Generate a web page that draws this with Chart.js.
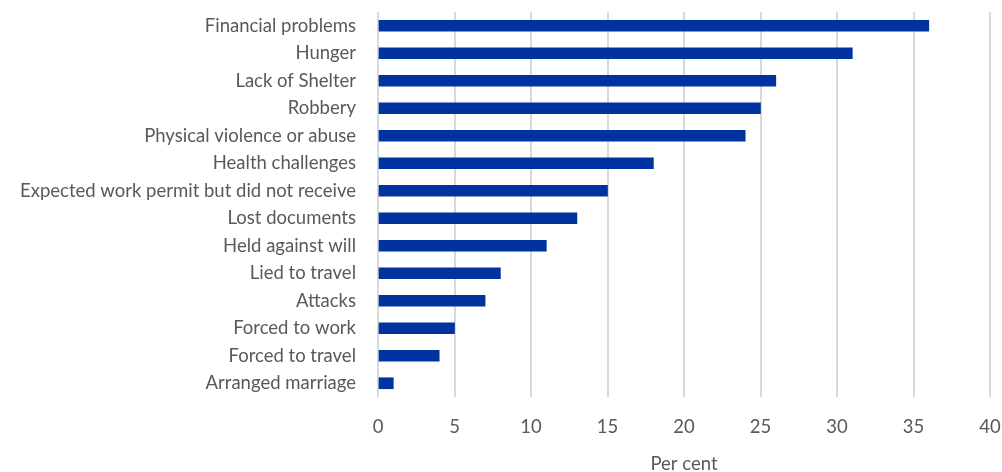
<!DOCTYPE html>
<html>
<head>
<meta charset="utf-8">
<script src="https://cdn.jsdelivr.net/npm/chart.js@4/dist/chart.umd.min.js"></script>
<style>
    html, body { margin: 0; padding: 0; background: #fff; }
    #wrap { width: 1002px; height: 472px; position: relative; }
</style>
</head>
<body>
<div id="wrap"><canvas id="hardshipChart"></canvas></div>
<script>
// Reported hardships, share of respondents
var categories = [
    'Financial problems',
    'Hunger',
    'Lack of Shelter',
    'Robbery',
    'Physical violence or abuse',
    'Health challenges',
    'Expected work permit but did not receive',
    'Lost documents',
    'Held against will',
    'Lied to travel',
    'Attacks',
    'Forced to work',
    'Forced to travel',
    'Arranged marriage'
];
var perCent = [36, 31, 26, 25, 24, 18, 15, 13, 11, 8, 7, 5, 4, 1];
var xTicks = [0, 5, 10, 15, 20, 25, 30, 35, 40];

var textColor = '#595959';
var gridColor = '#d9d9d9';
var barColor = '#0033a0';
var fontSize = 18.5;

Chart.defaults.font.family = 'Lato, "Open Sans", sans-serif';
Chart.defaults.font.size = fontSize;
Chart.defaults.color = textColor;

var ctx = document.getElementById('hardshipChart').getContext('2d');

new Chart(ctx, {
    type: 'bar',
    data: {
        labels: categories,
        datasets: [{
            label: 'Per cent',
            data: perCent,
            backgroundColor: barColor,
            borderWidth: 0,
            barThickness: 11
        }]
    },
    options: {
        indexAxis: 'y',
        responsive: true,
        maintainAspectRatio: false,
        animation: false,
        layout: {
            padding: { top: 12, right: 12, bottom: 0, left: 0 }
        },
        plugins: {
            legend: { display: false },
            tooltip: { enabled: false }
        },
        scales: {
            x: {
                min: 0,
                max: 40,
                afterBuildTicks: function(scale) {
                    scale.ticks = xTicks.map(function(v) { return { value: v }; });
                },
                afterFit: function(scale) {
                    // fixed axis band, no extra room for the last tick label
                    scale.height = 75;
                    scale.paddingLeft = 0;
                    scale.paddingRight = 0;
                },
                grid: {
                    color: gridColor,
                    lineWidth: 2,
                    drawTicks: false
                },
                border: { display: false },
                ticks: {
                    padding: 19,
                    color: textColor,
                    font: { size: fontSize }
                },
                title: {
                    display: true,
                    text: 'Per cent',
                    color: textColor,
                    font: { size: fontSize },
                    padding: { top: 0, bottom: -3 }
                }
            },
            y: {
                grid: { display: false, drawTicks: false },
                border: { display: false },
                afterFit: function(scale) {
                    scale.width = 378;
                    scale.paddingTop = 0;
                    scale.paddingBottom = 0;
                },
                ticks: {
                    padding: 22,
                    color: textColor,
                    font: { size: fontSize }
                }
            }
        }
    }
});
</script>
</body>
</html>
